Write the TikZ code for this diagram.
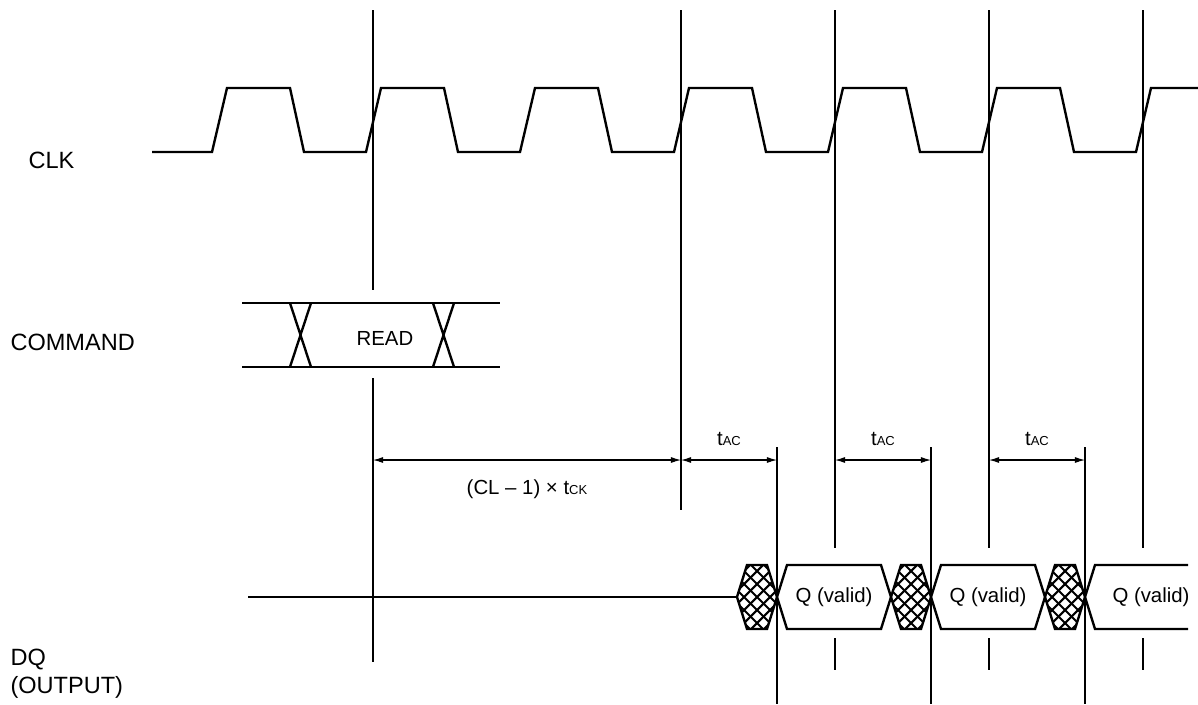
\documentclass[tikz,border=0pt]{standalone}
\usepackage{fontspec}
\setmainfont{Liberation Sans}
\usetikzlibrary{arrows.meta}
\newcommand{\lowcaps}[1]{{\fontsize{7.4}{8}\selectfont #1}}
\tikzset{
  every picture/.style={line width=0.6pt},
  wave/.style={line width=1.35pt, line join=miter},
  guide/.style={line width=0.6pt},
  hatch/.style={line width=1.2pt},
  dim/.style={{Latex[length=5.7pt,width=3.4pt]}-{Latex[length=5.7pt,width=3.4pt]}, line width=0.6pt},
  signal/.style={font=\fontsize{13.4}{15.9}\selectfont, anchor=west, align=left, inner sep=0pt},
  inlabel/.style={font=\fontsize{11.6}{13}\selectfont, inner sep=0pt},
}

\begin{document}
\begin{tikzpicture}[x=0.02cm, y=-0.02cm]
  \useasboundingbox (0,0) rectangle (1198,704);
  % signal names
  \node[signal] (clk) at (28,160) {CLK};
  \node[signal] (cmd) at (10,342) {COMMAND};
  \node[signal] (dq) at (10,674) {DQ\\(OUTPUT)};

  % clock
  \draw[wave] (152,152) \foreach \k in {0,...,5} {
      -- ({212+154*\k},152) -- ({227+154*\k},88) -- ({290+154*\k},88) -- ({304+154*\k},152) }
    -- (1136,152) -- (1151,88) -- (1198,88);

  % guide lines
  \draw[guide] (373,10) -- (373,290) (373,378) -- (373,662);
  \draw[guide] (681,10) -- (681,510);
  \foreach \x in {835,989,1143}
    \draw[guide] (\x,10) -- (\x,548) (\x,638) -- (\x,670);
  \foreach \x in {777,931,1085}
    \draw[guide] (\x,447) -- (\x,704);

  % command
  \draw[wave] (242,303) -- (500,303) (242,367) -- (500,367);
  \foreach \x in {290,433}
    \draw[wave] (\x,303) -- ({\x+21},367) (\x,367) -- ({\x+21},303);
  \node[inlabel] (read) at (385,338) {READ};

  % timing marks
  \foreach \n/\x in {1/373,2/681,3/835,4/989}
    \coordinate (g\n) at (\x,460);
  \foreach \n/\x in {1/777,2/931,3/1085}
    \coordinate (d\n) at (\x,460);
  \draw[dim] (g1) -- (g2) node[inlabel, midway, below=10.75pt] (cl) {(CL – 1) × t\lowcaps{CK}};
  \foreach \a/\b in {2/1,3/2,4/3}
    \draw[dim] (g\a) -- (d\b) node[inlabel, midway, above=8pt] (tac\b) {t\lowcaps{AC}};

  % data output
  \draw[wave] (248,597) -- (737,597);
  \foreach \t in {777,931,1085} {
    \begin{scope}
      \clip ({\t-40},597) -- ({\t-30},565) -- ({\t-10},565) -- (\t,597) -- ({\t-10},629) -- ({\t-30},629) -- cycle;
      \foreach \d in {-78,-65,...,78}
        \draw[hatch] ({\t-60+\d},557) -- ({\t+20+\d},637) ({\t-60+\d},637) -- ({\t+20+\d},557);
    \end{scope}
    \draw[wave] ({\t-40},597) -- ({\t-30},565) -- ({\t-10},565) -- (\t,597) -- ({\t-10},629) -- ({\t-30},629) -- cycle;
  }
  \foreach \t in {777,931}
    \draw[wave] (\t,597) -- ({\t+10},565) -- ({\t+104},565) -- ({\t+114},597) -- ({\t+104},629) -- ({\t+10},629) -- cycle;
  \draw[wave] (1188,565) -- (1095,565) -- (1085,597) -- (1095,629) -- (1188,629);
  \node[inlabel] (q1) at (834,597) {Q (valid)};
  \node[inlabel] (q2) at (988,597) {Q (valid)};
  \node[inlabel] (q3) at (1151,597) {Q (valid)};
\end{tikzpicture}
\end{document}
